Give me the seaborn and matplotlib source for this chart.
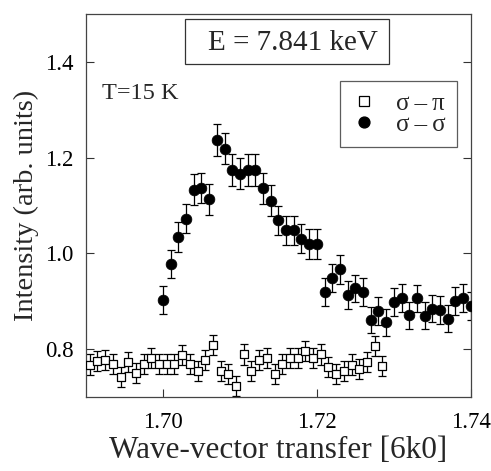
import numpy as np
import pandas as pd
import matplotlib
matplotlib.use("Agg")
import matplotlib.pyplot as plt
from matplotlib.lines import Line2D
from matplotlib.patches import Rectangle
import seaborn as sns

# sigma-sigma data (filled circles)
ss_x = [1.700, 1.701, 1.702, 1.703, 1.704, 1.705, 1.706, 1.707, 1.708, 1.709,
        1.710, 1.711, 1.712, 1.713, 1.714, 1.715, 1.716, 1.717, 1.718, 1.719,
        1.720, 1.721, 1.722, 1.723, 1.724, 1.725, 1.726, 1.727, 1.728, 1.729,
        1.730, 1.731, 1.732, 1.733, 1.734, 1.735, 1.736, 1.737, 1.738, 1.739,
        1.740]
ss_y = [0.903, 0.978, 1.034, 1.073, 1.133, 1.137, 1.113, 1.237, 1.219, 1.174,
        1.167, 1.174, 1.174, 1.136, 1.110, 1.069, 1.048, 1.048, 1.031, 1.020,
        1.020, 0.920, 0.949, 0.967, 0.913, 0.927, 0.920, 0.861, 0.879, 0.856,
        0.899, 0.907, 0.871, 0.906, 0.870, 0.885, 0.882, 0.864, 0.900, 0.907,
        0.890]
ss_err = [0.029, 0.030, 0.031, 0.031, 0.032, 0.032, 0.032, 0.034, 0.033, 0.033,
          0.033, 0.033, 0.033, 0.032, 0.032, 0.031, 0.031, 0.031, 0.031, 0.031,
          0.031, 0.029, 0.030, 0.030, 0.029, 0.029, 0.029, 0.028, 0.029, 0.028,
          0.029, 0.029, 0.028, 0.029, 0.028, 0.029, 0.029, 0.028, 0.029, 0.029,
          0.029]

# sigma-pi data (open squares)
sp_x = [1.6905, 1.6915, 1.6925, 1.6935, 1.6945, 1.6955, 1.6965, 1.6975, 1.6985,
        1.6995, 1.7005, 1.7015, 1.7025, 1.7035, 1.7045, 1.7055, 1.7065, 1.7075,
        1.7085, 1.7095, 1.7105, 1.7115, 1.7125, 1.7135, 1.7145, 1.7155, 1.7165,
        1.7175, 1.7185, 1.7195, 1.7205, 1.7215, 1.7225, 1.7235, 1.7245, 1.7255,
        1.7265, 1.7275, 1.7285]
sp_y = [0.768, 0.775, 0.778, 0.769, 0.741, 0.774, 0.750, 0.769, 0.782, 0.769,
        0.769, 0.769, 0.787, 0.769, 0.754, 0.778, 0.808, 0.754, 0.748, 0.723,
        0.789, 0.754, 0.777, 0.782, 0.749, 0.769, 0.781, 0.781, 0.797, 0.781,
        0.789, 0.762, 0.749, 0.754, 0.768, 0.758, 0.773, 0.806, 0.764]
sp_err = [0.021] * 39

x_ticks = [1.70, 1.72, 1.74]
x_ticklabels = ["1.70", "1.72", "1.74"]
y_ticks = [0.8, 1.0, 1.2, 1.4]
y_ticklabels = ["0.8", "1.0", "1.2", "1.4"]
legend_labels = ["σ\u2009–\u2009π", "σ\u2009–\u2009σ"]

sns.set_theme(style="ticks")
plt.rcParams['font.family'] = ['Liberation Serif', 'DejaVu Serif']

fig = plt.figure(figsize=(4.91, 4.71), dpi=100)
ax = fig.add_axes([0.175, 0.157, 0.784, 0.813])

ss = pd.DataFrame({"x": ss_x, "y": ss_y, "err": ss_err})
sp = pd.DataFrame({"x": sp_x, "y": sp_y, "err": sp_err})

ax.errorbar(sp["x"], sp["y"], yerr=sp["err"], fmt="none", ecolor="black",
            elinewidth=0.9, capsize=3.0, capthick=0.9, zorder=2)
ax.errorbar(ss["x"], ss["y"], yerr=ss["err"], fmt="none", ecolor="black",
            elinewidth=0.9, capsize=3.0, capthick=0.9, zorder=2)

sns.scatterplot(data=sp, x="x", y="y", marker="s", s=36, facecolor="white",
                edgecolor="black", linewidth=0.9, ax=ax, zorder=3, legend=False)
sns.scatterplot(data=ss, x="x", y="y", marker="o", s=60, color="black",
                edgecolor="black", linewidth=0.5, ax=ax, zorder=4, legend=False)

ax.set_xlim(1.69, 1.74)
ax.set_ylim(0.7, 1.5)
ax.set_xticks(x_ticks)
ax.set_xticklabels(x_ticklabels)
ax.set_yticks(y_ticks)
ax.set_yticklabels(y_ticklabels)
ax.tick_params(axis="both", direction="in", length=6, width=0.8, labelsize=16.5,
               color="#333333", labelcolor="black")
ax.tick_params(axis="x", pad=11)
ax.tick_params(axis="y", right=True, pad=9)
for sp_ in ax.spines.values():
    sp_.set_visible(True)
    sp_.set_linewidth(0.9)
    sp_.set_color("#444444")

ax.set_xlabel("Wave-vector transfer [6k0]", fontsize=22.5, labelpad=2)
ax.set_ylabel("Intensity (arb. units)", fontsize=20.5, labelpad=4)

# energy box
ax.add_patch(Rectangle((0.257, 0.869), 0.530, 0.118, transform=ax.transAxes,
                       facecolor="white", edgecolor="#333333", linewidth=0.9,
                       zorder=5))
ax.text(0.317, 0.906, "E = 7.841 keV", transform=ax.transAxes, fontsize=21,
        ha="left", va="baseline", zorder=6)
ax.text(0.042, 0.778, "T=15 K", transform=ax.transAxes, fontsize=17.5,
        ha="left", va="baseline")

handles = [
    Line2D([], [], linestyle="none", marker="s", markersize=6.5,
           markerfacecolor="white", markeredgecolor="black", markeredgewidth=0.9),
    Line2D([], [], linestyle="none", marker="o", markersize=7.8,
           markerfacecolor="black", markeredgecolor="black"),
]
leg = ax.legend(handles, legend_labels, loc="upper left",
                bbox_to_anchor=(0.66, 0.826), borderaxespad=0, fontsize=18,
                frameon=True, fancybox=False, handlelength=1.0,
                handletextpad=0.8, labelspacing=-0.05, borderpad=0.45)
leg.get_frame().set_edgecolor("#333333")
leg.get_frame().set_linewidth(0.9)

fig.savefig("out.png", dpi=100)
